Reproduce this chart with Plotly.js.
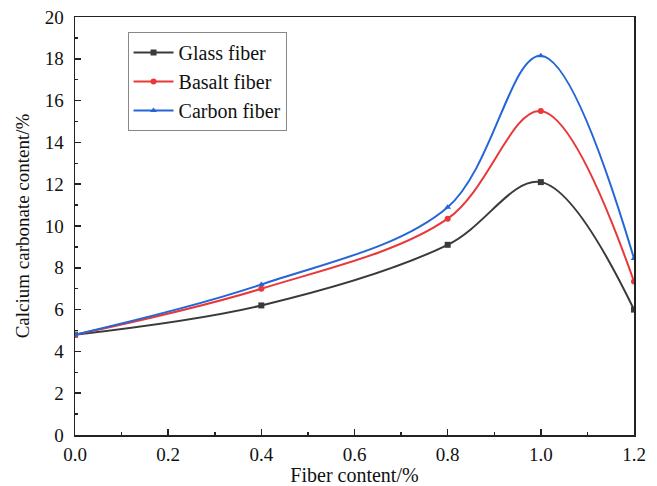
<!DOCTYPE html>
<html><head><meta charset="utf-8">
<script src="https://cdn.plot.ly/plotly-3.0.1.min.js"></script>
<style>html,body{margin:0;padding:0;background:#fff}</style>
</head><body>
<div id="chart" style="width:657px;height:486px"></div>
<script>
var fiberContent = [0.0, 0.4, 0.8, 1.0, 1.2];
var glassFiber  = [4.8, 6.2, 9.1, 12.1, 6.0];
var basaltFiber = [4.8, 7.0, 10.35, 15.5, 7.35];
var carbonFiber = [4.8, 7.2, 10.9, 18.15, 8.45];
var seriesNames = ['Glass fiber', 'Basalt fiber', 'Carbon fiber'];
var xTickVals = [0.0, 0.2, 0.4, 0.6, 0.8, 1.0, 1.2];
var xTickText = ['0.0', '0.2', '0.4', '0.6', '0.8', '1.0', '1.2'];

function tr(y, name, color, symbol) {
  return {x: fiberContent, y: y, name: name, type: 'scatter', mode: 'lines+markers',
    line: {color: color, width: 2, shape: 'spline', smoothing: 1},
    marker: {color: color, symbol: symbol, size: 6}};
}
var data = [
  tr(glassFiber, seriesNames[0], '#3a3a3a', 'square'),
  tr(basaltFiber, seriesNames[1], '#e8383a', 'circle'),
  tr(carbonFiber, seriesNames[2], '#2466d6', 'triangle-up')
];
var fam = '"Liberation Serif", "Times New Roman", serif';
var layout = {
  width: 657, height: 486,
  margin: {l: 75, r: 23, t: 17, b: 51},
  paper_bgcolor: '#fff', plot_bgcolor: '#fff',
  font: {family: fam, color: '#111', size: 19},
  showlegend: true,
  legend: {x: 0.094, y: 0.964, xanchor: 'left', yanchor: 'top', bgcolor: '#fff',
    bordercolor: '#888', borderwidth: 1, font: {family: fam, size: 20, color: '#111'},
    tracegroupgap: 0, itemwidth: 40},
  xaxis: {range: [0, 1.2], tickvals: xTickVals, ticktext: xTickText,
    ticks: 'inside', ticklen: 6, tickwidth: 1.5, tickcolor: '#222',
    ticklabelstandoff: 2, tickfont: {family: fam, size: 19, color: '#111'},
    showline: true, linecolor: '#222', linewidth: 1.5, mirror: true,
    showgrid: false, zeroline: false,
    minor: {ticks: 'inside', dtick: 0.1, ticklen: 3, tickcolor: '#222', showgrid: false},
    title: {text: 'Fiber content/%', font: {family: fam, size: 20, color: '#111'}, standoff: 2}},
  yaxis: {range: [0, 20], dtick: 2, tick0: 0,
    ticks: 'inside', ticklen: 6, tickwidth: 1.5, tickcolor: '#222',
    ticklabelstandoff: 6, tickfont: {family: fam, size: 19, color: '#111'},
    showline: true, linecolor: '#222', linewidth: 1.5, mirror: true,
    showgrid: false, zeroline: false,
    minor: {ticks: 'inside', dtick: 1, ticklen: 3, tickcolor: '#222', showgrid: false},
    title: {text: 'Calcium carbonate content/%', font: {family: fam, size: 19, color: '#111'}, standoff: 10}}
};
Plotly.newPlot('chart', data, layout, {displayModeBar: false, staticPlot: true});
</script>
</body></html>
